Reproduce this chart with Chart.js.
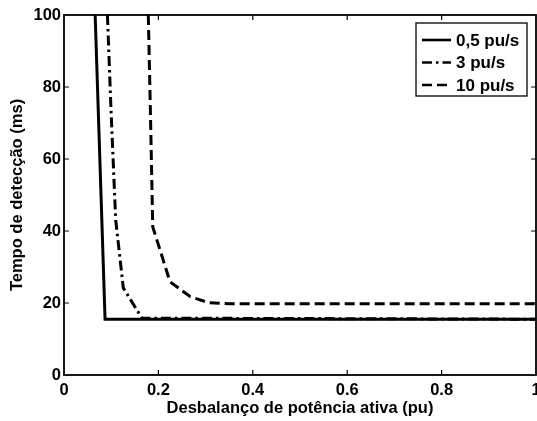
<!DOCTYPE html>
<html>
<head>
<meta charset="utf-8">
<script src="https://cdn.jsdelivr.net/npm/chart.js@4/dist/chart.umd.min.js"></script>
<style>
    html, body { margin: 0; padding: 0; background: #fff; }
    #wrap { width: 537px; height: 421px; }
</style>
</head>
<body>
<div id="wrap"><canvas id="chart"></canvas></div>
<script>
// series (x: pu, y: ms)
var seriesLabels = ['0,5 pu/s', '3 pu/s', '10 pu/s'];
var slowX = [0.066, 0.087, 1];
var slowY = [100, 15.5, 15.5];
var midX = [0.092, 0.0996, 0.1095, 0.1256, 0.165, 1];
var midY = [100, 73.6, 43.1, 24.2, 15.8, 15.5];
var fastX = [0.1786, 0.183, 0.188, 0.2246, 0.267, 0.306, 0.35, 1];
var fastY = [100, 73.6, 41.2, 25.9, 21.8, 20.1, 19.8, 19.8];
var xTicks = [0, 0.2, 0.4, 0.6, 0.8, 1];
var yTicks = [0, 20, 40, 60, 80, 100];

var FONT = '"Liberation Sans", Arial, Helvetica, sans-serif';
var dashes = [[], [10, 4, 2.5, 4], [10, 5]];

function pts(xs, ys) {
    return xs.map(function (x, i) { return { x: x, y: ys[i] }; });
}

// matlab style box, inward ticks and framed legend
var framePlugin = {
    id: 'frame',
    afterDatasetsDraw: function (chart) {
        var ctx = chart.ctx, a = chart.chartArea;
        var sx = chart.scales.x, sy = chart.scales.y;
        ctx.save();
        ctx.strokeStyle = '#000';
        ctx.lineWidth = 1.8;
        ctx.strokeRect(a.left, a.top, a.right - a.left, a.bottom - a.top);
        ctx.lineWidth = 1.2;
        ctx.beginPath();
        xTicks.slice(1, -1).forEach(function (v) {
            var px = sx.getPixelForValue(v);
            ctx.moveTo(px, a.bottom); ctx.lineTo(px, a.bottom - 5);
            ctx.moveTo(px, a.top); ctx.lineTo(px, a.top + 5);
        });
        yTicks.slice(1, -1).forEach(function (v) {
            var py = sy.getPixelForValue(v);
            ctx.moveTo(a.left, py); ctx.lineTo(a.left + 5, py);
            ctx.moveTo(a.right, py); ctx.lineTo(a.right - 5, py);
        });
        ctx.stroke();

        // legend
        var bx = 416, by = 23, bw = 111, bh = 73;
        ctx.fillStyle = '#fff';
        ctx.fillRect(bx, by, bw, bh);
        ctx.lineWidth = 1.3;
        ctx.strokeRect(bx, by, bw, bh);
        ctx.font = 'bold 17px ' + FONT;
        ctx.textBaseline = 'middle';
        ctx.fillStyle = '#000';
        chart.data.datasets.forEach(function (ds, i) {
            var y = 40 + i * 22.5;
            ctx.lineWidth = 2.6;
            ctx.setLineDash(ds.borderDash || []);
            ctx.beginPath();
            ctx.moveTo(422, y); ctx.lineTo(451, y);
            ctx.stroke();
            ctx.setLineDash([]);
            ctx.fillText(ds.label, 456, y + 1);
        });
        ctx.restore();
    }
};

new Chart(document.getElementById('chart'), {
    type: 'line',
    data: {
        datasets: [
            { label: seriesLabels[0], data: pts(slowX, slowY), borderDash: dashes[0] },
            { label: seriesLabels[1], data: pts(midX, midY), borderDash: dashes[1] },
            { label: seriesLabels[2], data: pts(fastX, fastY), borderDash: dashes[2] }
        ].map(function (d) {
            d.borderColor = '#000';
            d.borderWidth = 3;
            d.pointRadius = 0;
            d.tension = 0;
            d.fill = false;
            return d;
        })
    },
    options: {
        responsive: true,
        maintainAspectRatio: false,
        animation: false,
        layout: { padding: { top: 15, right: 1, left: 0, bottom: 0 } },
        plugins: { legend: { display: false }, tooltip: { enabled: false } },
        scales: {
            x: {
                type: 'linear', min: 0, max: 1,
                afterFit: function (s) { s.height = 46; s.paddingLeft = 0; s.paddingRight = 0; },
                afterBuildTicks: function (s) { s.ticks = xTicks.map(function (v) { return { value: v }; }); },
                grid: { display: false, drawTicks: false },
                border: { display: false },
                ticks: {
                    color: '#000', padding: 6, maxRotation: 0,
                    font: { family: FONT, size: 16.5, weight: 'bold' },
                    callback: function (v) { return String(v); }
                },
                title: {
                    display: true, text: 'Desbalanço de potência ativa (pu)', color: '#000',
                    font: { family: FONT, size: 16.5, weight: 'bold' },
                    padding: { top: 0, bottom: 3 }
                }
            },
            y: {
                min: 0, max: 100,
                afterFit: function (s) { s.width = 64; s.paddingTop = 0; s.paddingBottom = 0; },
                afterBuildTicks: function (s) { s.ticks = yTicks.map(function (v) { return { value: v }; }); },
                grid: { display: false, drawTicks: false },
                border: { display: false },
                ticks: {
                    color: '#000', padding: 3,
                    font: { family: FONT, size: 16.5, weight: 'bold' }
                },
                title: {
                    display: true, text: 'Tempo de detecção (ms)', color: '#000',
                    font: { family: FONT, size: 16.5, weight: 'bold' },
                    padding: { top: 8, bottom: 0 }
                }
            }
        }
    },
    plugins: [framePlugin]
});
</script>
</body>
</html>
